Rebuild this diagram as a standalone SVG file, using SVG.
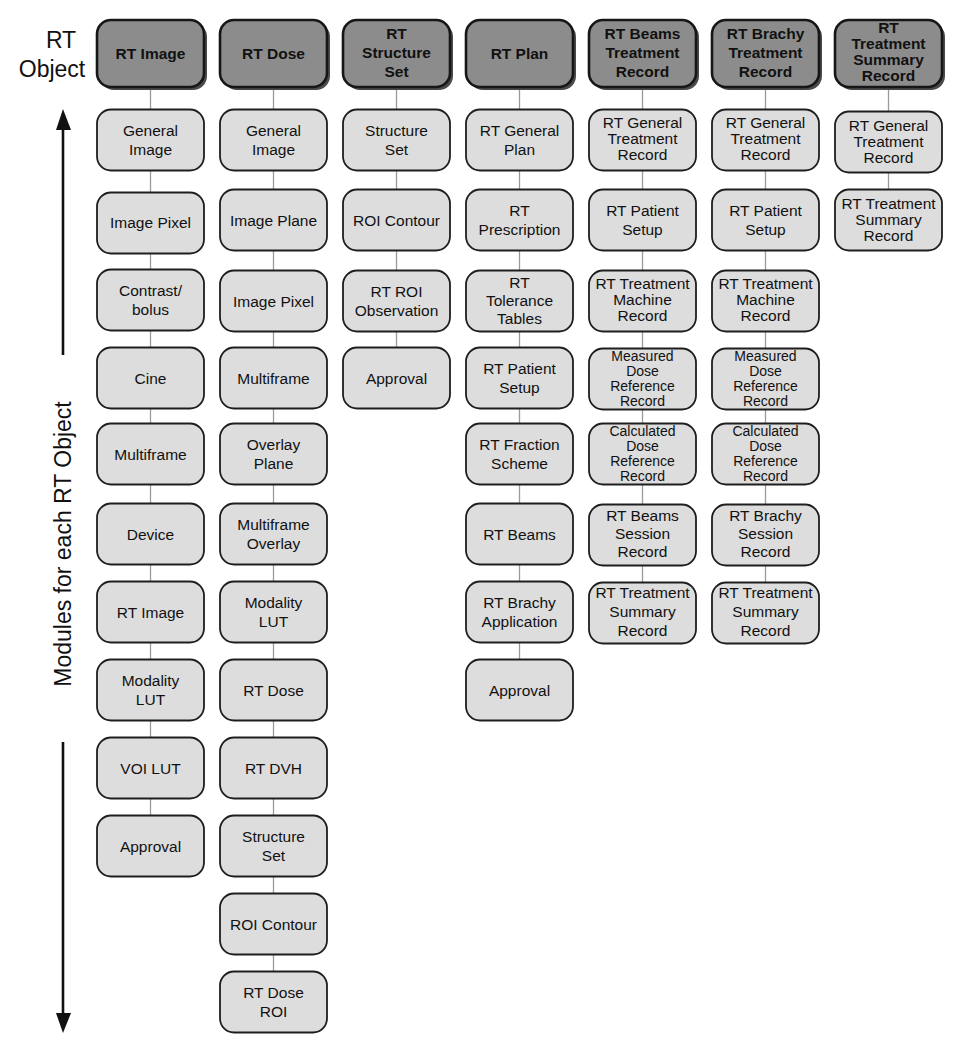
<svg xmlns="http://www.w3.org/2000/svg" width="964" height="1053" viewBox="0 0 964 1053">
<style>
.hd rect.s{fill:#4a4a4a;stroke:none}
.hd rect.b{fill:#8c8c8c;stroke:#161616;stroke-width:2.6}
.hd text{font-family:"Liberation Sans",Arial,sans-serif;font-size:15.5px;font-weight:bold;fill:#111;text-anchor:middle}
.nd rect{fill:#dddddd;stroke:#1e1e1e;stroke-width:1.8}
.nd text{font-family:"Liberation Sans",Arial,sans-serif;font-size:15.5px;fill:#111;text-anchor:middle}
.nd text.sm{font-size:14px}
.lbl{font-family:"Liberation Sans",Arial,sans-serif;font-size:23px;fill:#111;text-anchor:middle}
#connectors line{stroke:#9a9a9a;stroke-width:1.3}
.arr{stroke:#111;stroke-width:2.6;fill:none}
</style>
<defs>
<marker id="ah" viewBox="0 0 14 20" refX="7" refY="20" markerWidth="14" markerHeight="20" markerUnits="userSpaceOnUse" orient="auto-start-reverse">
<path d="M0,0 L14,0 L7,20 Z" fill="#111"/>
</marker>
</defs>
<rect width="964" height="1053" fill="#ffffff"/>

<!-- left labels -->
<g id="label-rt-object">
<text class="lbl" x="61" y="48">RT</text>
<text class="lbl" x="52" y="77">Object</text>
</g>
<g id="label-modules">
<text class="lbl" x="71" y="544" transform="rotate(-90 71 544)">Modules for each RT Object</text>
<line class="arr" x1="63" y1="355" x2="63" y2="128"/>
<path d="M56,130 L71,130 L63,109 Z" fill="#111"/>
<line class="arr" x1="63" y1="742" x2="63" y2="1014"/>
<path d="M56,1013 L71,1013 L63,1033 Z" fill="#111"/>
</g>

<!-- connectors -->
<g id="connectors">
<line x1="150.5" y1="87" x2="150.5" y2="846"/>
<line x1="273.5" y1="87" x2="273.5" y2="1002"/>
<line x1="396.5" y1="87" x2="396.5" y2="378"/>
<line x1="519.5" y1="87" x2="519.5" y2="690"/>
<line x1="642.5" y1="87" x2="642.5" y2="612"/>
<line x1="765.5" y1="87" x2="765.5" y2="612"/>
<line x1="888.5" y1="87" x2="888.5" y2="220"/>
</g>

<!-- headers -->
<g id="h-rt-image" class="hd"><rect class="s" x="100" y="23" width="107" height="67" rx="14"/><rect class="b" x="97" y="20" width="107" height="67" rx="14"/><text x="150.5" y="59">RT Image</text></g>
<g id="h-rt-dose" class="hd"><rect class="s" x="223" y="23" width="107" height="67" rx="14"/><rect class="b" x="220" y="20" width="107" height="67" rx="14"/><text x="273.5" y="59">RT Dose</text></g>
<g id="h-rt-structure-set" class="hd"><rect class="s" x="346" y="23" width="107" height="67" rx="14"/><rect class="b" x="343" y="20" width="107" height="67" rx="14"/><text x="396.5" y="39">RT</text><text x="396.5" y="58">Structure</text><text x="396.5" y="77">Set</text></g>
<g id="h-rt-plan" class="hd"><rect class="s" x="469" y="23" width="107" height="67" rx="14"/><rect class="b" x="466" y="20" width="107" height="67" rx="14"/><text x="519.5" y="59">RT Plan</text></g>
<g id="h-rt-beams-treatment-record" class="hd"><rect class="s" x="592" y="23" width="107" height="67" rx="14"/><rect class="b" x="589" y="20" width="107" height="67" rx="14"/><text x="642.5" y="39">RT Beams</text><text x="642.5" y="58">Treatment</text><text x="642.5" y="77">Record</text></g>
<g id="h-rt-brachy-treatment-record" class="hd"><rect class="s" x="715" y="23" width="107" height="67" rx="14"/><rect class="b" x="712" y="20" width="107" height="67" rx="14"/><text x="765.5" y="39">RT Brachy</text><text x="765.5" y="58">Treatment</text><text x="765.5" y="77">Record</text></g>
<g id="h-rt-treatment-summary-record" class="hd"><rect class="s" x="838" y="23" width="107" height="67" rx="14"/><rect class="b" x="835" y="20" width="107" height="67" rx="14"/><text x="888.5" y="33">RT</text><text x="888.5" y="49">Treatment</text><text x="888.5" y="65">Summary</text><text x="888.5" y="81">Record</text></g>

<!-- column 1: RT Image -->
<g id="c1-general-image" class="nd"><rect x="97" y="109.5" width="107" height="61" rx="14"/><text x="150.5" y="135.5">General</text><text x="150.5" y="154.5">Image</text></g>
<g id="c1-image-pixel" class="nd"><rect x="97" y="192.5" width="107" height="61" rx="14"/><text x="150.5" y="228">Image Pixel</text></g>
<g id="c1-contrast-bolus" class="nd"><rect x="97" y="269.5" width="107" height="61" rx="14"/><text x="150.5" y="295.5">Contrast/</text><text x="150.5" y="314.5">bolus</text></g>
<g id="c1-cine" class="nd"><rect x="97" y="347.5" width="107" height="61" rx="14"/><text x="150.5" y="383.5">Cine</text></g>
<g id="c1-multiframe" class="nd"><rect x="97" y="423.5" width="107" height="61" rx="14"/><text x="150.5" y="459.5">Multiframe</text></g>
<g id="c1-device" class="nd"><rect x="97" y="503.5" width="107" height="61" rx="14"/><text x="150.5" y="539.5">Device</text></g>
<g id="c1-rt-image" class="nd"><rect x="97" y="581.5" width="107" height="61" rx="14"/><text x="150.5" y="617.5">RT Image</text></g>
<g id="c1-modality-lut" class="nd"><rect x="97" y="659.5" width="107" height="61" rx="14"/><text x="150.5" y="685.5">Modality</text><text x="150.5" y="704.5">LUT</text></g>
<g id="c1-voi-lut" class="nd"><rect x="97" y="737.5" width="107" height="61" rx="14"/><text x="150.5" y="773.5">VOI LUT</text></g>
<g id="c1-approval" class="nd"><rect x="97" y="815.5" width="107" height="61" rx="14"/><text x="150.5" y="851.5">Approval</text></g>

<!-- column 2: RT Dose -->
<g id="c2-general-image" class="nd"><rect x="220" y="109.5" width="107" height="61" rx="14"/><text x="273.5" y="135.5">General</text><text x="273.5" y="154.5">Image</text></g>
<g id="c2-image-plane" class="nd"><rect x="220" y="189.5" width="107" height="61" rx="14"/><text x="273.5" y="225.5">Image Plane</text></g>
<g id="c2-image-pixel" class="nd"><rect x="220" y="270.5" width="107" height="61" rx="14"/><text x="273.5" y="306.5">Image Pixel</text></g>
<g id="c2-multiframe" class="nd"><rect x="220" y="347.5" width="107" height="61" rx="14"/><text x="273.5" y="383.5">Multiframe</text></g>
<g id="c2-overlay-plane" class="nd"><rect x="220" y="423.5" width="107" height="61" rx="14"/><text x="273.5" y="449.5">Overlay</text><text x="273.5" y="468.5">Plane</text></g>
<g id="c2-multiframe-overlay" class="nd"><rect x="220" y="503.5" width="107" height="61" rx="14"/><text x="273.5" y="529.5">Multiframe</text><text x="273.5" y="548.5">Overlay</text></g>
<g id="c2-modality-lut" class="nd"><rect x="220" y="581.5" width="107" height="61" rx="14"/><text x="273.5" y="607.5">Modality</text><text x="273.5" y="626.5">LUT</text></g>
<g id="c2-rt-dose" class="nd"><rect x="220" y="659.5" width="107" height="61" rx="14"/><text x="273.5" y="695.5">RT Dose</text></g>
<g id="c2-rt-dvh" class="nd"><rect x="220" y="737.5" width="107" height="61" rx="14"/><text x="273.5" y="773.5">RT DVH</text></g>
<g id="c2-structure-set" class="nd"><rect x="220" y="815.5" width="107" height="61" rx="14"/><text x="273.5" y="841.5">Structure</text><text x="273.5" y="860.5">Set</text></g>
<g id="c2-roi-contour" class="nd"><rect x="220" y="893.5" width="107" height="61" rx="14"/><text x="273.5" y="929.5">ROI Contour</text></g>
<g id="c2-rt-dose-roi" class="nd"><rect x="220" y="971.5" width="107" height="61" rx="14"/><text x="273.5" y="997.5">RT Dose</text><text x="273.5" y="1016.5">ROI</text></g>

<!-- column 3: RT Structure Set -->
<g id="c3-structure-set" class="nd"><rect x="343" y="109.5" width="107" height="61" rx="14"/><text x="396.5" y="135.5">Structure</text><text x="396.5" y="154.5">Set</text></g>
<g id="c3-roi-contour" class="nd"><rect x="343" y="189.5" width="107" height="61" rx="14"/><text x="396.5" y="225.5">ROI Contour</text></g>
<g id="c3-rt-roi-observation" class="nd"><rect x="343" y="270.5" width="107" height="61" rx="14"/><text x="396.5" y="296.5">RT ROI</text><text x="396.5" y="315.5">Observation</text></g>
<g id="c3-approval" class="nd"><rect x="343" y="347.5" width="107" height="61" rx="14"/><text x="396.5" y="383.5">Approval</text></g>

<!-- column 4: RT Plan -->
<g id="c4-rt-general-plan" class="nd"><rect x="466" y="109.5" width="107" height="61" rx="14"/><text x="519.5" y="135.5">RT General</text><text x="519.5" y="154.5">Plan</text></g>
<g id="c4-rt-prescription" class="nd"><rect x="466" y="189.5" width="107" height="61" rx="14"/><text x="519.5" y="215.5">RT</text><text x="519.5" y="234.5">Prescription</text></g>
<g id="c4-rt-tolerance-tables" class="nd"><rect x="466" y="270.5" width="107" height="61" rx="14"/><text x="519.5" y="287.5">RT</text><text x="519.5" y="305.5">Tolerance</text><text x="519.5" y="323.5">Tables</text></g>
<g id="c4-rt-patient-setup" class="nd"><rect x="466" y="347.5" width="107" height="61" rx="14"/><text x="519.5" y="373.5">RT Patient</text><text x="519.5" y="392.5">Setup</text></g>
<g id="c4-rt-fraction-scheme" class="nd"><rect x="466" y="423.5" width="107" height="61" rx="14"/><text x="519.5" y="449.5">RT Fraction</text><text x="519.5" y="468.5">Scheme</text></g>
<g id="c4-rt-beams" class="nd"><rect x="466" y="503.5" width="107" height="61" rx="14"/><text x="519.5" y="539.5">RT Beams</text></g>
<g id="c4-rt-brachy-application" class="nd"><rect x="466" y="581.5" width="107" height="61" rx="14"/><text x="519.5" y="607.5">RT Brachy</text><text x="519.5" y="626.5">Application</text></g>
<g id="c4-approval" class="nd"><rect x="466" y="659.5" width="107" height="61" rx="14"/><text x="519.5" y="695.5">Approval</text></g>

<!-- column 5: RT Beams Treatment Record -->
<g id="c5-rt-general-treatment-record" class="nd"><rect x="589" y="109.5" width="107" height="61" rx="14"/><text x="642.5" y="128">RT General</text><text x="642.5" y="144">Treatment</text><text x="642.5" y="160">Record</text></g>
<g id="c5-rt-patient-setup" class="nd"><rect x="589" y="189.5" width="107" height="61" rx="14"/><text x="642.5" y="215.5">RT Patient</text><text x="642.5" y="234.5">Setup</text></g>
<g id="c5-rt-treatment-machine-record" class="nd"><rect x="589" y="270.5" width="107" height="61" rx="14"/><text x="642.5" y="289">RT Treatment</text><text x="642.5" y="305">Machine</text><text x="642.5" y="321">Record</text></g>
<g id="c5-measured-dose-reference-record" class="nd"><rect x="589" y="348.5" width="107" height="61" rx="14"/><text class="sm" x="642.5" y="361">Measured</text><text class="sm" x="642.5" y="376">Dose</text><text class="sm" x="642.5" y="391">Reference</text><text class="sm" x="642.5" y="406">Record</text></g>
<g id="c5-calculated-dose-reference-record" class="nd"><rect x="589" y="423.5" width="107" height="61" rx="14"/><text class="sm" x="642.5" y="436">Calculated</text><text class="sm" x="642.5" y="451">Dose</text><text class="sm" x="642.5" y="466">Reference</text><text class="sm" x="642.5" y="481">Record</text></g>
<g id="c5-rt-beams-session-record" class="nd"><rect x="589" y="504.5" width="107" height="61" rx="14"/><text x="642.5" y="521">RT Beams</text><text x="642.5" y="539">Session</text><text x="642.5" y="557">Record</text></g>
<g id="c5-rt-treatment-summary-record" class="nd"><rect x="589" y="582.5" width="107" height="61" rx="14"/><text x="642.5" y="598">RT Treatment</text><text x="642.5" y="617">Summary</text><text x="642.5" y="636">Record</text></g>

<!-- column 6: RT Brachy Treatment Record -->
<g id="c6-rt-general-treatment-record" class="nd"><rect x="712" y="109.5" width="107" height="61" rx="14"/><text x="765.5" y="128">RT General</text><text x="765.5" y="144">Treatment</text><text x="765.5" y="160">Record</text></g>
<g id="c6-rt-patient-setup" class="nd"><rect x="712" y="189.5" width="107" height="61" rx="14"/><text x="765.5" y="215.5">RT Patient</text><text x="765.5" y="234.5">Setup</text></g>
<g id="c6-rt-treatment-machine-record" class="nd"><rect x="712" y="270.5" width="107" height="61" rx="14"/><text x="765.5" y="289">RT Treatment</text><text x="765.5" y="305">Machine</text><text x="765.5" y="321">Record</text></g>
<g id="c6-measured-dose-reference-record" class="nd"><rect x="712" y="348.5" width="107" height="61" rx="14"/><text class="sm" x="765.5" y="361">Measured</text><text class="sm" x="765.5" y="376">Dose</text><text class="sm" x="765.5" y="391">Reference</text><text class="sm" x="765.5" y="406">Record</text></g>
<g id="c6-calculated-dose-reference-record" class="nd"><rect x="712" y="423.5" width="107" height="61" rx="14"/><text class="sm" x="765.5" y="436">Calculated</text><text class="sm" x="765.5" y="451">Dose</text><text class="sm" x="765.5" y="466">Reference</text><text class="sm" x="765.5" y="481">Record</text></g>
<g id="c6-rt-brachy-session-record" class="nd"><rect x="712" y="504.5" width="107" height="61" rx="14"/><text x="765.5" y="521">RT Brachy</text><text x="765.5" y="539">Session</text><text x="765.5" y="557">Record</text></g>
<g id="c6-rt-treatment-summary-record" class="nd"><rect x="712" y="582.5" width="107" height="61" rx="14"/><text x="765.5" y="598">RT Treatment</text><text x="765.5" y="617">Summary</text><text x="765.5" y="636">Record</text></g>

<!-- column 7: RT Treatment Summary Record -->
<g id="c7-rt-general-treatment-record" class="nd"><rect x="835" y="111.5" width="107" height="61" rx="14"/><text x="888.5" y="131">RT General</text><text x="888.5" y="147">Treatment</text><text x="888.5" y="163">Record</text></g>
<g id="c7-rt-treatment-summary-record" class="nd"><rect x="835" y="189.5" width="107" height="61" rx="14"/><text x="888.5" y="209">RT Treatment</text><text x="888.5" y="225">Summary</text><text x="888.5" y="241">Record</text></g>
</svg>
